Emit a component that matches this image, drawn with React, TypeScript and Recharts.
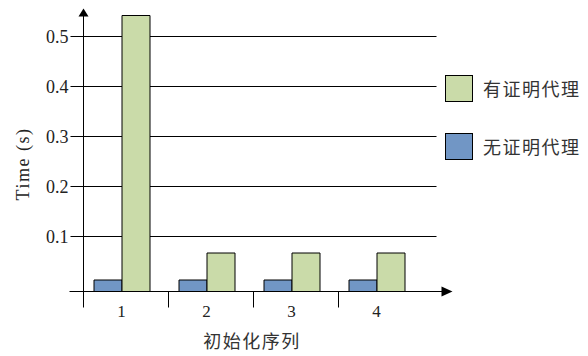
import React from 'react';
import { BarChart, Bar, XAxis, YAxis, CartesianGrid, Legend } from 'recharts';

const categories = ['1', '2', '3', '4'];
const withProof = [0.542, 0.067, 0.067, 0.067];
const withoutProof = [0.013, 0.013, 0.013, 0.013];
const yTicks = [0.1, 0.2, 0.3, 0.4, 0.5];
const Y_MIN = -0.01;
const Y_MAX = 0.55;
const nameWith = '有证明代理';
const nameWithout = '无证明代理';
const xTitle = '初始化序列';
const yTitle = 'Time (s)';

const GREEN = '#CADBA9';
const BLUE = '#7196C5';
const SERIF = 'Liberation Serif';
const CJK = 'Noto Sans CJK SC';

const data = categories.map((c, i) => ({
  cat: c,
  withProof: withProof[i],
  withoutProof: withoutProof[i],
}));

const XTick = (props: any) => {
  const { x, y, payload } = props;
  return (
    <g>
      <line x1={x - 38} x2={x - 38} y1={y} y2={y + 16} stroke="#000" strokeWidth={1} />
      <text x={x} y={y + 25.5} textAnchor="middle" style={{ fontFamily: SERIF, fontSize: 17 }} fill="#222">
        {payload.value}
      </text>
    </g>
  );
};

const XAxisDecor = (props: any) => {
  const vb = props.viewBox || { x: 83.5, y: 291.5, width: 353, height: 40 };
  const left = vb.x;
  const right = vb.x + vb.width;
  const y = vb.y;
  return (
    <g>
      <line x1={left - 14} x2={right + 6} y1={y} y2={y} stroke="#000" strokeWidth={1} />
      <polygon points={`${right + 5},${y - 5} ${right + 5},${y + 5} ${right + 16},${y}`} fill="#000" />
      <text x={252} y={348} textAnchor="middle" style={{ fontFamily: CJK, fontSize: 18, letterSpacing: 1.5 }} fill="#333">
        {xTitle}
      </text>
    </g>
  );
};

const YAxisDecor = (props: any) => {
  const vb = props.viewBox || { x: 23.5, y: 11.5, width: 60, height: 280 };
  const ax = vb.x + vb.width;
  const top = vb.y;
  const bottom = vb.y + vb.height;
  return (
    <g>
      <line x1={ax} x2={ax} y1={bottom + 12} y2={top + 4} stroke="#000" strokeWidth={1} />
      <polygon points={`${ax - 5},${top + 5} ${ax + 5},${top + 5} ${ax},${top - 3}`} fill="#000" />
      <text
        x={22.5}
        y={164}
        transform="rotate(-90, 22.5, 164)"
        textAnchor="middle"
        dominantBaseline="central"
        style={{ fontFamily: SERIF, fontSize: 18, letterSpacing: 1.5 }}
        fill="#222"
      >
        {yTitle}
      </text>
    </g>
  );
};

const LegendContent = (props: any) => {
  const items = [...(props.payload || [])].reverse();
  return (
    <div style={{ position: 'relative', width: 140, height: 90 }}>
      {items.map((it: any, i: number) => (
        <div
          key={it.value}
          style={{ position: 'absolute', left: 0, top: i * 58, display: 'flex', alignItems: 'center', height: 27 }}
        >
          <div
            style={{
              width: 28,
              height: 27,
              background: it.color,
              border: '1px solid #000',
              boxSizing: 'border-box',
            }}
          />
          <span
            style={{
              marginLeft: 10,
              fontFamily: CJK,
              fontSize: 18,
              letterSpacing: 1.5,
              color: '#333',
              whiteSpace: 'nowrap',
              lineHeight: '27px',
            }}
          >
            {it.value}
          </span>
        </div>
      ))}
    </div>
  );
};

export default function App() {
  return (
    <div style={{ position: 'absolute', left: 0, top: 0 }}>
      <BarChart
        width={588}
        height={356}
        data={data}
        margin={{ top: 11.5, left: 23.5, right: 11.5, bottom: 24.5 }}
        barGap={0}
        barSize={28}
      >
        <CartesianGrid horizontal vertical={false} horizontalValues={yTicks} stroke="#000" strokeWidth={1} />
        <XAxis
          dataKey="cat"
          padding={{ left: -4.5, right: 17.5 }}
          tickLine={false}
          axisLine={false}
          tickSize={0}
          tickMargin={0}
          height={40}
          interval={0}
          tick={<XTick />}
          label={{ content: <XAxisDecor /> } as any}
        />
        <YAxis
          type="number"
          domain={[Y_MIN, Y_MAX]}
          ticks={yTicks}
          allowDataOverflow
          width={60}
          tickSize={13}
          tickLine={{ stroke: '#000' }}
          axisLine={false}
          tickFormatter={(v: number) => v.toFixed(1)}
          tick={{ fontFamily: SERIF, fontSize: 18, fill: '#222' }}
          label={{ content: <YAxisDecor /> } as any}
        />
        <Legend
          layout="vertical"
          align="right"
          verticalAlign="top"
          wrapperStyle={{ left: 445, top: 75, width: 140, height: 90 }}
          content={<LegendContent />}
        />
        <Bar
          dataKey={(d: any) => [Y_MIN, d.withoutProof]}
          name={nameWithout}
          fill={BLUE}
          stroke="#000"
          strokeWidth={1}
          isAnimationActive={false}
        />
        <Bar
          dataKey={(d: any) => [Y_MIN, d.withProof]}
          name={nameWith}
          fill={GREEN}
          stroke="#000"
          strokeWidth={1}
          isAnimationActive={false}
        />
      </BarChart>
    </div>
  );
}
